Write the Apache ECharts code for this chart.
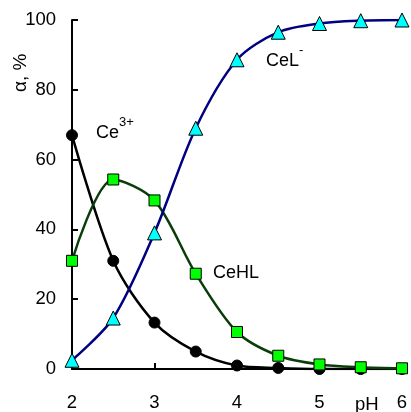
<!DOCTYPE html>
<html>
<head>
<meta charset="utf-8">
<script src="https://cdn.jsdelivr.net/npm/echarts@6/dist/echarts.min.js"></script>
<style>
  html, body { margin: 0; padding: 0; background: #fff; }
  #chart { width: 411px; height: 412px; }
</style>
</head>
<body>
<div id="chart"></div>
<script>
// pH values
const phValues = [2, 2.5, 3, 3.5, 4, 4.5, 5, 5.5, 6]
// доли форм, %
const ce3Values = [67, 31, 13.3, 5, 1, 0.3, 0, 0, 0]
const ceHLValues = [31, 54.3, 48.3, 27.3, 10.6, 3.8, 1.3, 0.5, 0.2]
const ceLValues = [2.5, 14.6, 39, 69, 88.6, 96.5, 99, 99.8, 100]
const yTicks = [0, 20, 40, 60, 80, 100]

const pairs = (vals) => phValues.map((x, i) => [x, vals[i]])

const chart = echarts.init(document.getElementById('chart'))
const font = 'Liberation Sans, Arial, sans-serif'

// подпись с верхним индексом
const supText = (base, sup, x, y) => ({
  type: 'text', x: x, y: y,
  style: {
    text: '{b|' + base + '}{s|' + sup + '}', fill: '#000',
    rich: {
      b: { fontSize: 18, fontFamily: font, fill: '#000', padding: [10, 0, 0, 0] },
      s: { fontSize: 13, fontFamily: font, fill: '#000', padding: [0, 0, 12, 0] }
    }
  }
})

const option = {
  animation: false,
  grid: { left: 72, right: 9, top: 20, bottom: 42 },
  xAxis: {
    type: 'value',
    min: 2,
    max: 6,
    interval: 1,
    axisLine: { lineStyle: { color: '#000', width: 2 } },
    axisTick: { inside: true, length: 6, lineStyle: { color: '#000', width: 2 } },
    axisLabel: { color: '#000', fontSize: 18.5, fontFamily: font, margin: 24 },
    splitLine: { show: false }
  },
  yAxis: {
    type: 'value',
    min: yTicks[0],
    max: yTicks[yTicks.length - 1],
    interval: 20,
    axisLine: { show: true, lineStyle: { color: '#000', width: 2 } },
    axisTick: { show: true, inside: true, length: 6, lineStyle: { color: '#000', width: 2 } },
    axisLabel: { color: '#000', fontSize: 18.5, fontFamily: font, margin: 16 },
    splitLine: { show: false }
  },
  graphic: [
    {
      type: 'text', x: 11, y: 92, rotation: Math.PI / 2,
      style: { text: 'α, %', fontSize: 19, fontFamily: font, fill: '#000' }
    },
    supText('Ce', '3+', 96, 114),
    {
      type: 'text', x: 213, y: 264,
      style: { text: 'CeHL', fontSize: 18, fontFamily: font, fill: '#000' }
    },
    supText('CeL', '-', 266, 42),
    {
      type: 'text', x: 355, y: 395,
      style: { text: 'pH', fontSize: 18.5, fontFamily: font, fill: '#000' }
    }
  ],
  series: [
    {
      name: 'Ce3+',
      type: 'line',
      smooth: 0.3,
      data: pairs(ce3Values),
      symbol: 'circle',
      symbolSize: 11,
      lineStyle: { color: '#000', width: 2.5 },
      itemStyle: { color: '#000', borderColor: '#000' },
      z: 2
    },
    {
      name: 'CeHL',
      type: 'line',
      smooth: 0.3,
      data: pairs(ceHLValues),
      symbol: 'rect',
      symbolSize: 11,
      lineStyle: { color: '#0b3d0b', width: 2.5 },
      itemStyle: { color: '#00ff00', borderColor: '#000', borderWidth: 1 },
      z: 3
    },
    {
      name: 'CeL-',
      type: 'line',
      smooth: 0.3,
      data: pairs(ceLValues),
      symbol: 'triangle',
      symbolSize: 14,
      lineStyle: { color: '#000080', width: 2.5 },
      itemStyle: { color: '#00ffff', borderColor: '#000', borderWidth: 1 },
      z: 4
    }
  ]
}
chart.setOption(option)
</script>
</body>
</html>
